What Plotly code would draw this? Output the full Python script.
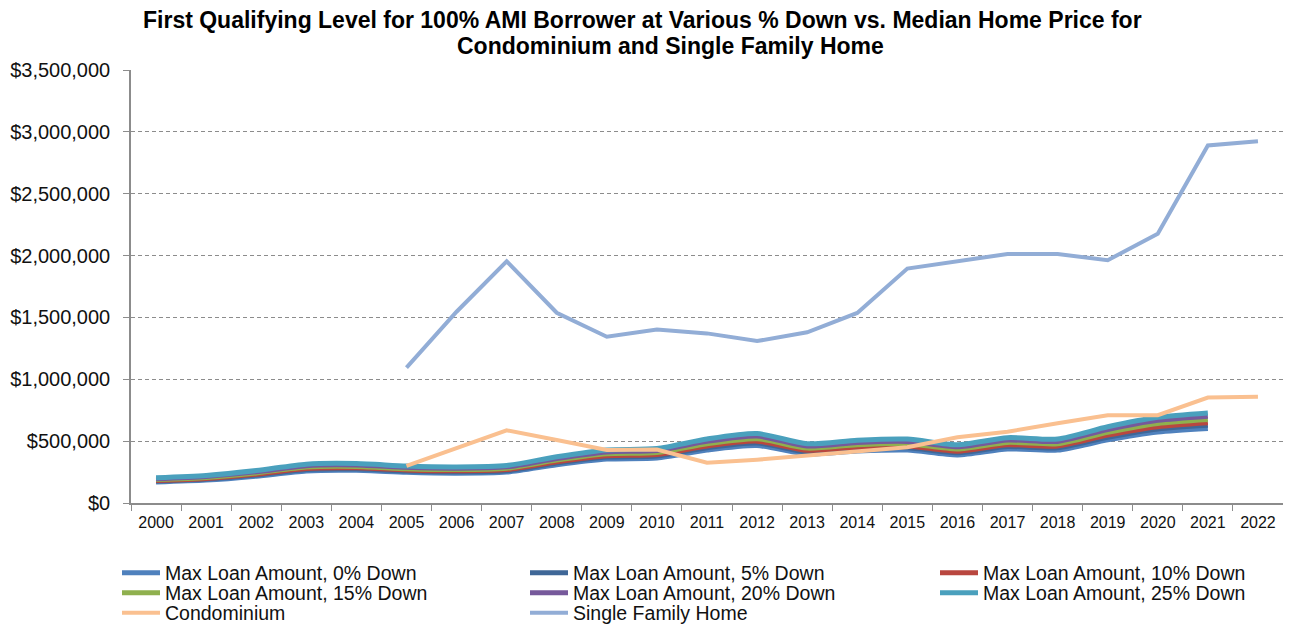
import plotly.graph_objects as go

years = [str(y) for y in range(2000, 2023)]

loan_0 = [169000, 185000, 217000, 259000, 264000, 248000, 241000, 250000, 309000, 355000, 364000, 428000,
          464000, 396000, 420000, 428000, 389000, 437000, 428000, 510000, 573000, 602000, None]
loan_5 = [177000, 193000, 226000, 271000, 276000, 258000, 252000, 261000, 323000, 371000, 380000, 447000,
          485000, 413000, 439000, 447000, 407000, 456000, 447000, 532000, 599000, 629000, None]
loan_10 = [182000, 199000, 233000, 279000, 284000, 267000, 260000, 270000, 333000, 382000, 392000, 461000,
           500000, 426000, 453000, 461000, 419000, 470000, 461000, 549000, 617000, 649000, None]
loan_15 = [190000, 207000, 243000, 291000, 296000, 277000, 270000, 281000, 347000, 398000, 408000, 479000,
           520000, 444000, 471000, 479000, 437000, 490000, 479000, 571000, 643000, 675000, None]
loan_20 = [197000, 215000, 252000, 302000, 307000, 288000, 281000, 292000, 360000, 413000, 424000, 498000,
           541000, 461000, 490000, 498000, 454000, 509000, 498000, 594000, 668000, 702000, None]
loan_25 = [205000, 223000, 262000, 314000, 319000, 299000, 292000, 303000, 374000, 429000, 440000, 517000,
           561000, 479000, 508000, 517000, 471000, 528000, 517000, 616000, 693000, 728000, None]
condo = [None, None, None, None, None, 300000, 445000, 588000, 509000, 428000, 432000, 325000,
         350000, 386000, 420000, 450000, 532000, 576000, 645000, 710000, 710000, 852000, 858000]
sfh = [None, None, None, None, None, 1094000, 1546000, 1954000, 1538000, 1344000, 1403000, 1371000,
       1309000, 1380000, 1536000, 1895000, 1950000, 2013000, 2013000, 1962000, 2177000, 2890000, 2925000]

title_line1 = "First Qualifying Level for 100% AMI Borrower at Various % Down vs. Median Home Price for"
title_line2 = "Condominium and Single Family Home"

# (name, values, color, width, legend column, legend row)
series = [
    ("Max Loan Amount, 0% Down", loan_0, "#4F81BD", 5, 0, 0),
    ("Max Loan Amount, 5% Down", loan_5, "#3F6797", 5, 1, 0),
    ("Max Loan Amount, 10% Down", loan_10, "#B9473F", 5, 2, 0),
    ("Max Loan Amount, 15% Down", loan_15, "#8FB04E", 5, 0, 1),
    ("Max Loan Amount, 20% Down", loan_20, "#76599B", 5, 1, 1),
    ("Max Loan Amount, 25% Down", loan_25, "#4AA0BD", 5, 2, 1),
    ("Condominium", condo, "#FAC090", 4, 0, 2),
    ("Single Family Home", sfh, "#92ADD6", 4, 1, 2),
]

# figure geometry (page has an 8px body margin)
W, H = 1283, 618
ML, MR, MT, MB = 123, 8, 62, 123
PW = W - ML - MR
PH = H - MT - MB

font_family = "Liberation Sans, Arial, sans-serif"

fig = go.Figure()
legend_layouts = {}
col_px = [109, 517, 927]      # legend box left, figure px
row_px = [565, 585, 605]      # legend row centre, figure px
for i, (name, vals, color, w, col, row) in enumerate(series):
    is_loan = name.startswith("Max")
    lg = "legend" if i == 0 else f"legend{i + 1}"
    fig.add_trace(go.Scatter(
        x=years, y=vals, name=name, mode="lines",
        line=dict(color=color, width=w, shape="spline" if is_loan else "linear",
                  smoothing=0.7 if is_loan else None),
        legend=lg, connectgaps=False, showlegend=True,
    ))
    legend_layouts[lg] = dict(
        orientation="v", xref="paper", x=(col_px[col] - ML) / PW, xanchor="left",
        yref="container", y=1 - row_px[row] / H, yanchor="middle",
        font=dict(family=font_family, size=19.5, color="#111111"),
        bgcolor="rgba(0,0,0,0)", itemwidth=38, borderwidth=0, visible=True,
    )

fig.update_layout(
    width=W, height=H, showlegend=True,
    margin=dict(l=ML, r=MR, t=MT, b=MB, autoexpand=False),
    paper_bgcolor="white", plot_bgcolor="white",
    **legend_layouts,
    annotations=[
        dict(text="<b>" + title_line1 + "</b>", xref="paper", yref="paper",
             x=(634 - ML) / PW, y=(MT + PH - 12) / PH, xanchor="center", yanchor="middle",
             showarrow=False, font=dict(family=font_family, size=23, color="#000000")),
        dict(text="<b>" + title_line2 + "</b>", xref="paper", yref="paper",
             x=(662 - ML) / PW, y=(MT + PH - 38) / PH, xanchor="center", yanchor="middle",
             showarrow=False, font=dict(family=font_family, size=23, color="#000000")),
    ],
    xaxis=dict(
        type="category", categoryorder="array", categoryarray=years,
        range=[-0.5, len(years) - 0.5],
        showline=True, linecolor="#8C8C8C", linewidth=1.5,
        ticks="outside", ticklen=6, tickcolor="#8C8C8C", tickwidth=1,
        tickson="boundaries", showgrid=False,
        tickfont=dict(family=font_family, size=16, color="#111111"),
        ticklabelstandoff=4,
    ),
    yaxis=dict(
        range=[0, 3500000], dtick=500000, tick0=0,
        tickformat="$,.0f",
        showline=True, linecolor="#8C8C8C", linewidth=1.5,
        ticks="outside", ticklen=6, tickcolor="#8C8C8C",
        showgrid=True, gridcolor="#8C8C8C", gridwidth=1, griddash="4px,3px",
        zeroline=False,
        tickfont=dict(family=font_family, size=20, color="#111111"),
        ticklabelstandoff=9,
    ),
)

fig.write_html("out.html")
